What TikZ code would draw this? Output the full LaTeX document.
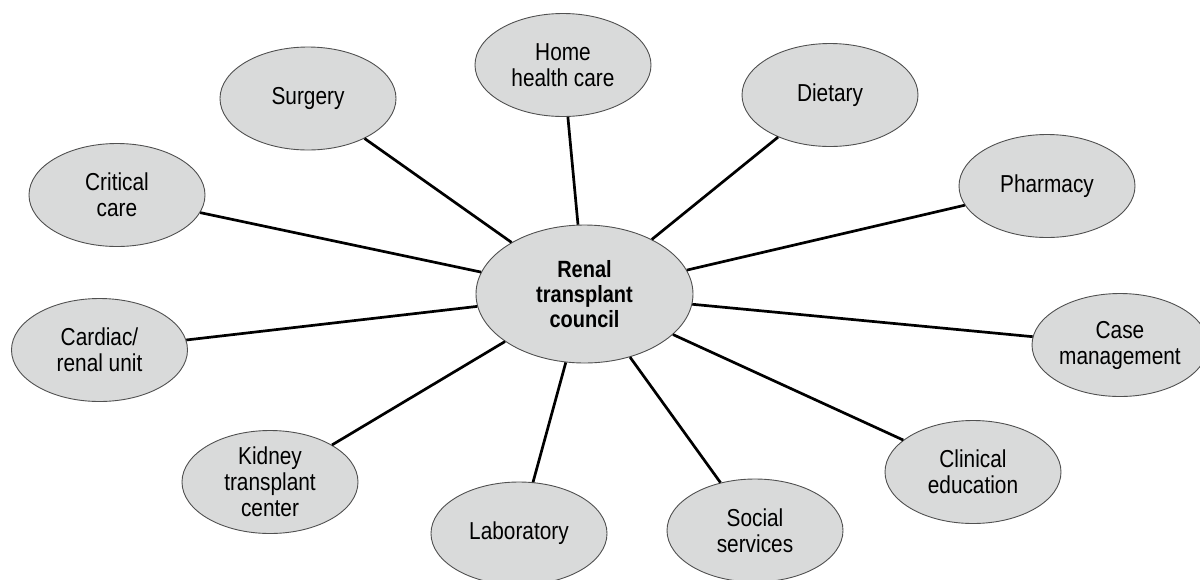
\documentclass[tikz,border=0pt]{standalone}
\usepackage{fontspec}
\setmainfont{Liberation Sans}[FakeStretch=0.85]
\usetikzlibrary{shapes.geometric}
\definecolor{bubble}{RGB}{217,218,218}
\definecolor{rim}{RGB}{80,80,80}
\tikzset{
  unit/.style={ellipse, draw=rim, line width=0.9pt, fill=bubble,
    minimum width=176pt, minimum height=103pt, inner sep=0pt,
    align=center, font=\fontsize{24.5}{26}\selectfont, text=black},
  hub/.style={unit, minimum width=217pt, minimum height=138pt,
    font=\fontsize{23.5}{25}\selectfont\bfseries},
  link/.style={line width=2.7pt, black}
}
\begin{document}
\begin{tikzpicture}[x=1pt,y=-1pt]
\useasboundingbox (0,0) rectangle (1200,579);
% central council
\node[hub] (council) at (584.5,294) {Renal\\transplant\\council};
% surrounding departments
\node[unit] (home)     at (563,65)    {Home\\health care};
\node[unit] (surgery)  at (308,98.5)  {Surgery};
\node[unit] (dietary)  at (830,95)    {Dietary};
\node[unit] (critical) at (117,195)   {Critical\\care};
\node[unit] (pharmacy) at (1047,186)  {Pharmacy};
\node[unit] (cardiac)  at (99.5,350)  {Cardiac/\\renal unit};
\node[unit] (casemgmt) at (1120,345)  {Case\\management};
\node[unit] (kidney)   at (270,482)   {Kidney\\transplant\\center};
\node[unit] (clinical) at (973,472)   {Clinical\\education};
\node[unit] (lab)      at (519,533.5) {Laboratory};
\node[unit] (social)   at (755,530.5) {Social\\services};
% spokes
\foreach \n in {home,surgery,dietary,critical,pharmacy,cardiac,casemgmt,kidney,clinical,lab,social}
  \draw[link] (council) -- (\n);
\end{tikzpicture}
\end{document}
